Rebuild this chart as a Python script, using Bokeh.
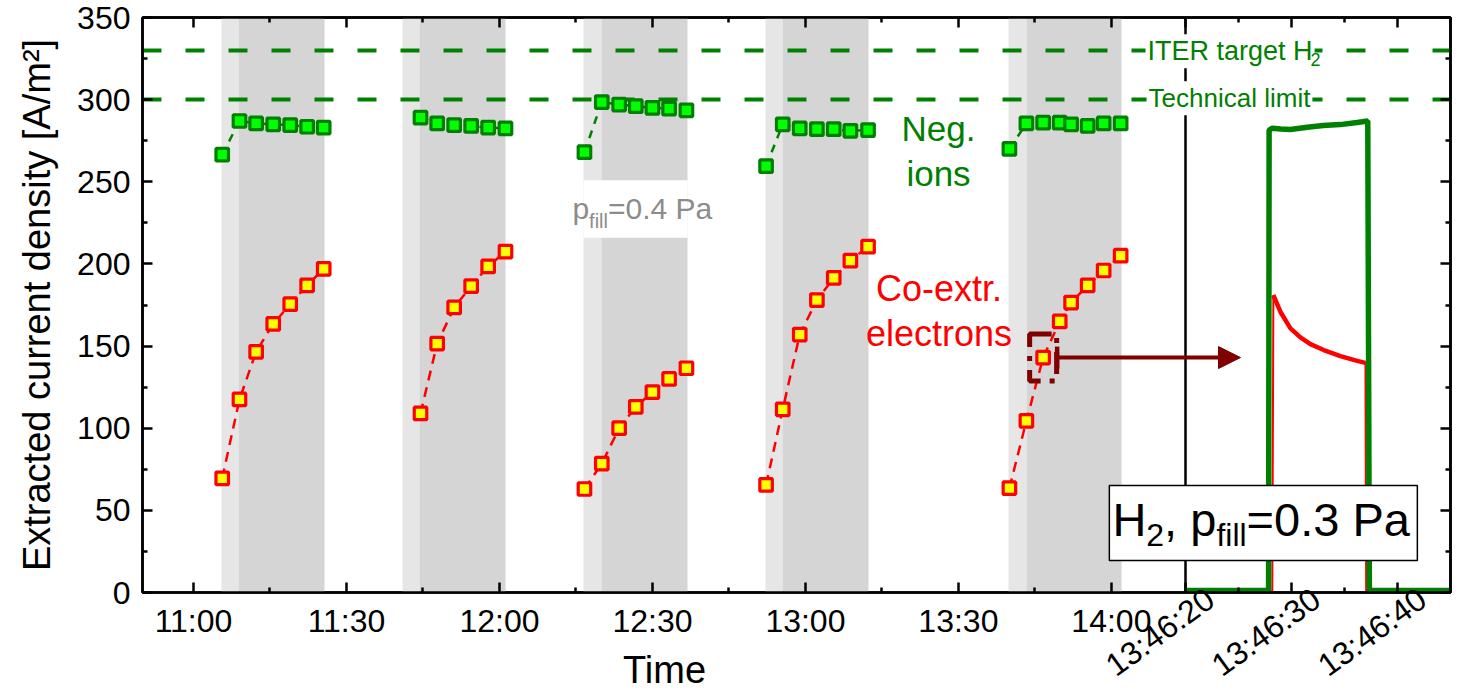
import math

from bokeh.plotting import figure
from bokeh.models import (Range1d, LinearAxis, FixedTicker, CustomJSTickFormatter,
                          Label, BoxAnnotation, Arrow, NormalHead, TeeHead)
from bokeh.embed import file_html
from bokeh.resources import INLINE

FONT = "Liberation Sans"
GREEN_DARK = "#008000"
GREEN_FILL = "#00ff00"
RED = "#ff0000"
YELLOW = "#ffff00"
MAROON = "#800000"
GRAY = "#8c8c8c"

# ---------------- measurement series (clock time, A/m^2) ----------------
run1_time = ["11:05:38", "11:09:01", "11:12:17", "11:15:38", "11:18:58", "11:22:17", "11:25:32"]
run1_ions = [266.5, 287.0, 285.5, 285.0, 284.5, 283.5, 283.0]
run1_electrons = [69.5, 117.5, 146.5, 163.5, 175.5, 187.0, 197.0]

run2_time = ["11:44:31", "11:47:47", "11:51:07", "11:54:27", "11:57:47", "12:01:11"]
run2_ions = [289.0, 285.5, 284.5, 284.0, 283.0, 282.5]
run2_electrons = [109.0, 151.5, 173.5, 186.5, 198.5, 207.5]

run3_time = ["12:16:40", "12:20:04", "12:23:28", "12:26:44", "12:30:00", "12:33:16", "12:36:40"]
run3_ions = [268.0, 298.5, 297.0, 296.0, 295.0, 294.5, 293.5]
run3_electrons = [63.0, 78.5, 100.0, 113.0, 122.0, 130.0, 136.5]

run4_time = ["12:52:17", "12:55:33", "12:58:53", "13:02:15", "13:05:33", "13:08:49", "13:12:17"]
run4_ions = [259.5, 285.0, 282.5, 282.0, 282.0, 281.0, 281.5]
run4_electrons = [65.5, 111.5, 157.0, 178.0, 191.5, 202.0, 210.5]

run5_time = ["13:40:00", "13:43:20", "13:46:37", "13:49:52", "13:52:06", "13:55:21", "13:58:29", "14:01:49"]
run5_ions = [270.0, 285.5, 286.0, 286.0, 285.0, 284.0, 285.5, 285.5]
run5_electrons = [63.5, 104.5, 143.0, 165.0, 176.5, 187.0, 196.0, 205.0]

# conditioning phases: start of plasma, start of extraction, end
band_on = ["11:05:30", "11:41:00", "12:16:30", "12:52:12", "13:39:48"]
band_main = ["11:08:48", "11:44:18", "12:20:00", "12:55:30", "13:43:18"]
band_off = ["11:25:42", "12:01:12", "12:36:54", "13:12:24", "14:02:00"]

# single pulse at 13:46 (seconds after 13:46:00)
pulse_ions_sec = [20.0, 27.85, 27.9, 28.2, 29.0, 29.9, 31.5, 33.0, 34.6, 36.2, 37.2, 37.35, 45.0]
pulse_ions = [1.2, 1.2, 281.5, 282.6, 282.2, 281.8, 283.2, 284.2, 284.8, 286.1, 287.0, 1.2, 1.2]
pulse_electrons_sec = [20.0, 28.2, 28.3, 28.96, 29.91, 30.85, 31.79, 33.05, 34.62, 36.2, 36.98, 37.05, 45.0]
pulse_electrons = [0.5, 0.5, 181.0, 170.9, 160.8, 155.3, 151.2, 147.6, 143.9, 141.0, 139.8, 0.5, 0.5]

ITER_TARGET = 330
TECH_LIMIT = 300

time_ticks = ["11:00", "11:30", "12:00", "12:30", "13:00", "13:30", "14:00"]
time_minor = ["11:15", "11:45", "12:15", "12:45", "13:15", "13:45"]
pulse_ticks = ["13:46:20", "13:46:30", "13:46:40"]
pulse_minor = ["13:46:25", "13:46:35", "13:46:45"]
y_ticks = [0, 50, 100, 150, 200, 250, 300, 350]
y_minor = [25, 75, 125, 175, 225, 275, 325]

highlight_time = run5_time[2]
highlight_value = run5_electrons[2]


def to_min(clock):
    parts = clock.split(":")
    sec = float(parts[2]) if len(parts) > 2 else 0.0
    return int(parts[0]) * 60 + int(parts[1]) + sec / 60.0


def to_sec_of_pulse(clock):
    return (to_min(clock) - to_min("13:46:00")) * 60.0


# broken x axis: overview in minutes of the day, then a zoomed pulse window
MAIN_START = to_min("10:50")
MAIN_END = to_min("14:14:30")
INSET_FROM, INSET_TO = 20.0, 45.0
INSET_WIDTH = 52.0
INSET_SCALE = INSET_WIDTH / (INSET_TO - INSET_FROM)
X_END = MAIN_END + INSET_WIDTH
X_PX = 1308.0 / (X_END - MAIN_START)   # frame pixels per x unit
Y_PX = 575.0 / 350.0                   # frame pixels per A/m^2


def inset_x(sec):
    return MAIN_END + (sec - INSET_FROM) * INSET_SCALE


p = figure(width=1471, height=695, x_range=Range1d(MAIN_START, X_END), y_range=Range1d(0, 350),
           output_backend="svg", toolbar_location=None,
           min_border_left=142, min_border_right=21, min_border_top=17, min_border_bottom=103)
p.xgrid.visible = False
p.ygrid.visible = False
p.outline_line_color = "black"
p.outline_line_width = 2.5
p.background_fill_color = "white"
p.border_fill_color = "white"

# ---------------- axes ----------------
x_major = [to_min(t) for t in time_ticks] + [inset_x(to_sec_of_pulse(t)) for t in pulse_ticks]
x_minor = [to_min(t) for t in time_minor] + [inset_x(to_sec_of_pulse(t)) for t in pulse_minor]
xticker = FixedTicker(ticks=x_major, minor_ticks=x_minor)
yticker = FixedTicker(ticks=y_ticks, minor_ticks=y_minor)


def style_axis(ax):
    ax.axis_line_color = "black"
    ax.axis_line_width = 2.5
    ax.major_tick_in = 10
    ax.major_tick_out = 0
    ax.minor_tick_in = 5
    ax.minor_tick_out = 0
    ax.major_tick_line_width = 2.5
    ax.minor_tick_line_width = 2.5
    ax.major_tick_line_color = "black"
    ax.minor_tick_line_color = "black"
    ax.major_label_text_font = FONT
    ax.major_label_text_font_size = "32px"
    ax.major_label_text_color = "black"


def bare_axis(ax):
    ax.axis_line_color = None
    ax.major_tick_line_color = None
    ax.minor_tick_line_color = None
    ax.major_tick_in = 0
    ax.major_tick_out = 0
    ax.minor_tick_in = 0
    ax.minor_tick_out = 0


# overview time axis (also carries the tick marks of the pulse window)
xa = p.xaxis[0]
xa.ticker = xticker
overrides = {to_min(t): t for t in time_ticks}
for t in pulse_ticks:
    overrides[inset_x(to_sec_of_pulse(t))] = ""
xa.major_label_overrides = overrides
style_axis(xa)
xa.major_label_standoff = 10

# slanted clock labels of the pulse window, ending just right of their ticks,
# plus the axis title centred under the overview part
LABEL_SHIFT = 25 / X_PX
pulse_label_pos = [inset_x(to_sec_of_pulse(t)) + LABEL_SHIFT for t in pulse_ticks]
pulse_axis = LinearAxis(ticker=FixedTicker(ticks=pulse_label_pos, minor_ticks=[]))
bare_axis(pulse_axis)
pulse_axis.major_label_overrides = dict(zip(pulse_label_pos, pulse_ticks))
pulse_axis.major_label_orientation = math.radians(36)
pulse_axis.major_label_text_font = FONT
pulse_axis.major_label_text_font_size = "32px"
pulse_axis.major_label_text_color = "black"
pulse_axis.major_label_standoff = -46
pulse_axis.axis_label = "Time" + "\u00a0" * 25
pulse_axis.axis_label_text_font = FONT
pulse_axis.axis_label_text_font_size = "38px"
pulse_axis.axis_label_text_font_style = "normal"
pulse_axis.axis_label_text_color = "black"
pulse_axis.axis_label_standoff = -52
p.add_layout(pulse_axis, "below")

ya = p.yaxis[0]
ya.ticker = yticker
style_axis(ya)
ya.major_label_standoff = 12
ya.axis_label = "Extracted current density [A/m²]"
ya.axis_label_text_font = FONT
ya.axis_label_text_font_size = "38px"
ya.axis_label_text_font_style = "normal"
ya.axis_label_text_color = "black"
ya.axis_label_standoff = 16

blank = CustomJSTickFormatter(code="return ''")
top_axis = LinearAxis(ticker=xticker, formatter=blank)
style_axis(top_axis)
top_axis.major_label_text_font_size = "0px"
top_axis.major_label_standoff = 0
p.add_layout(top_axis, "above")

right_axis = LinearAxis(ticker=yticker, formatter=blank)
style_axis(right_axis)
right_axis.major_label_text_font_size = "0px"
right_axis.major_label_standoff = 0
p.add_layout(right_axis, "right")

# ---------------- shaded phases ----------------
p.vstrip(x0=[to_min(t) for t in band_on], x1=[to_min(t) for t in band_main],
         fill_color="#e6e6e6", line_color=None)
p.vstrip(x0=[to_min(t) for t in band_main], x1=[to_min(t) for t in band_off],
         fill_color="#d5d5d5", line_color=None)
# clear space for the pressure note inside the third phase
p.quad(left=[to_min(band_on[2])], right=[to_min(band_off[2])], bottom=[216], top=[251],
       fill_color="white", line_color=None)

# reference levels and axis break
p.hspan(y=[ITER_TARGET, TECH_LIMIT], line_color=GREEN_DARK, line_width=4, line_dash="19 24")
p.vspan(x=[MAIN_END], line_color="black", line_width=2.5)

# ---------------- series ----------------
runs = [
    (run1_time, run1_ions, run1_electrons),
    (run2_time, run2_ions, run2_electrons),
    (run3_time, run3_ions, run3_electrons),
    (run4_time, run4_ions, run4_electrons),
    (run5_time, run5_ions, run5_electrons),
]
for times, ions, electrons in runs:
    xs = [to_min(t) for t in times]
    p.line(xs, ions, line_color=GREEN_DARK, line_width=2.5, line_dash="8 7")
    p.line(xs, electrons, line_color=RED, line_width=2.5, line_dash="10 7")
for times, ions, electrons in runs:
    xs = [to_min(t) for t in times]
    p.scatter(xs, ions, marker="square", size=12.5, fill_color=GREEN_FILL,
              line_color=GREEN_DARK, line_width=3.2)
    p.scatter(xs, electrons, marker="square", size=12.5, fill_color=YELLOW,
              line_color=RED, line_width=3.2)

# pulse trace
ex = [inset_x(s) for s in pulse_electrons_sec]
p.line(ex, pulse_electrons, line_color=RED, line_width=2)
p.line(ex[2:11], pulse_electrons[2:11], line_color=RED, line_width=4.5)
p.line([inset_x(s) for s in pulse_ions_sec], pulse_ions, line_color=GREEN_DARK, line_width=5.5)

# highlighted sample and pointer to the pulse
hx = to_min(highlight_time)
p.rect(x=[hx], y=[highlight_value], width=27, height=47, width_units="screen",
       height_units="screen", fill_color=None, line_color=MAROON, line_width=5,
       line_dash="22 9 5 9")
p.add_layout(Arrow(x_start=hx + 14 / X_PX, y_start=highlight_value,
                   x_end=inset_x(25.2), y_end=highlight_value,
                   line_color=MAROON, line_width=4,
                   start=TeeHead(size=22, line_color=MAROON, line_width=4.5),
                   end=NormalHead(size=22, fill_color=MAROON, line_color=MAROON)))


# ---------------- texts ----------------
def add_text(x, baseline, text, size, color, align="left", x_offset=0, bg=None):
    # texts are anchored at their vertical middle; shift from the wanted baseline
    y_mid = baseline + 0.3465 * size / Y_PX
    lab = Label(x=x, y=y_mid, text=text, x_offset=x_offset,
                text_font=FONT, text_font_size=f"{size}px", text_color=color,
                text_align=align, text_baseline="middle")
    if bg is not None:
        lab.background_fill_color = bg
        lab.background_fill_alpha = 1.0
        lab.padding = 2
    p.add_layout(lab)


add_text(846.7, 323.8, "ITER target H", 27, GREEN_DARK, bg="white")
add_text(846.7, 320.8, "2", 18, GREEN_DARK, x_offset=165)
add_text(846.9, 295.4, "Technical limit", 26, GREEN_DARK, bg="white")

add_text(806.1, 275.1, "Neg.", 35, GREEN_DARK, align="center")
add_text(806.1, 247.7, "ions", 35, GREEN_DARK, align="center")
add_text(806.2, 177.7, "Co-extr.", 36, RED, align="center")
add_text(806.2, 150.3, "electrons", 36, RED, align="center")

add_text(734.3, 227.6, "p", 30, GRAY)
add_text(734.3, 222.2, "fill", 20, GRAY, x_offset=16.7)
add_text(734.3, 227.6, "=0.4 Pa", 30, GRAY, x_offset=35.6)

p.add_layout(BoxAnnotation(left=839.6, right=900.0, bottom=19.5, top=65.1,
                           fill_color="white", fill_alpha=1.0,
                           line_color="black", line_width=1.5, line_alpha=1.0))
add_text(840.2, 34.7, "H", 47, "black")
add_text(840.2, 28.0, "2", 32, "black", x_offset=33.9)
add_text(840.2, 34.7, ", p", 47, "black", x_offset=51.7)
add_text(840.2, 28.0, "fill", 32, "black", x_offset=104.0)
add_text(840.2, 34.7, "=0.3 Pa", 47, "black", x_offset=134.2)

open("out.html", "w").write(file_html(p, INLINE))
